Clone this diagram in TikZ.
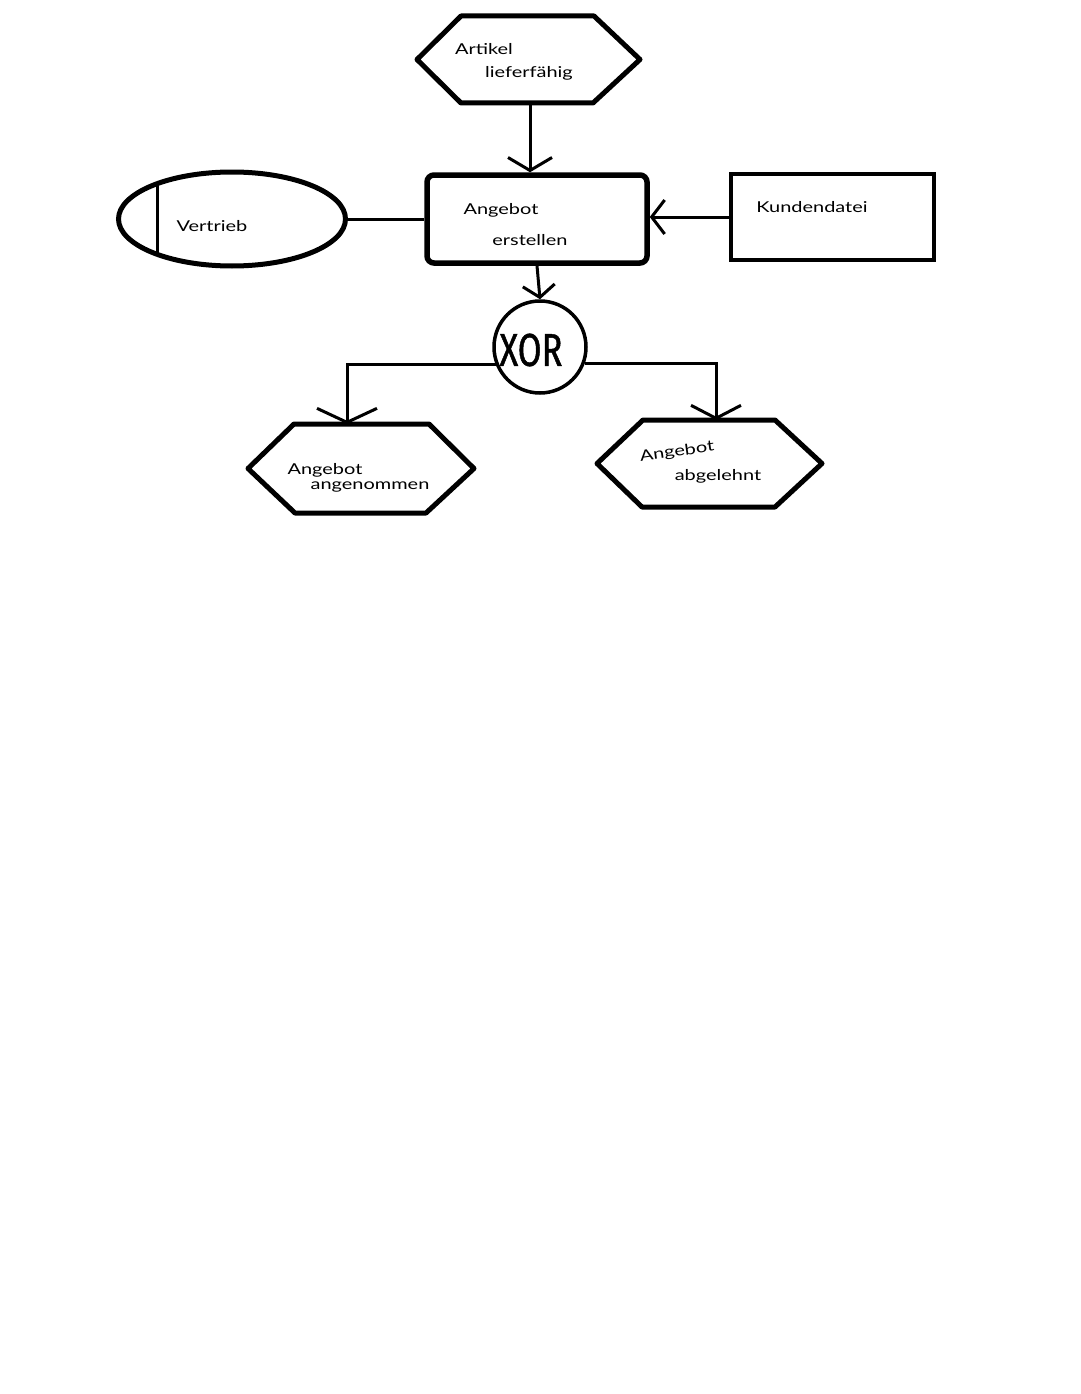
\documentclass[tikz,border=0pt]{standalone}
\usepackage{fontspec}
\usetikzlibrary{shapes.geometric,arrows.meta,calc}
\newfontfamily\hand[FakeStretch=1.33]{Lato}
\newfontfamily\xorfont[FakeStretch=0.75,FakeBold=1]{Fira Sans}
\tikzset{
  shapeline/.style={line width=5pt, line join=round, black},
  boxnode/.style={draw=none, inner sep=0pt, outer sep=0pt},
  conn/.style={line width=3pt, black},
  tip/.style={conn, -{Straight Barb[length=13pt,width=44pt]}},
  lbl/.style={inner sep=0pt, font=\hand\fontsize{15}{17}\selectfont}
}
\begin{document}
\begin{tikzpicture}[x=1pt,y=-1pt]
\useasboundingbox[fill=white] (0,0) rectangle (1080,1394);

% event: Artikel lieferfaehig
\node[boxnode, minimum width=223pt, minimum height=87pt] (ev1) at (528.5,59.5) {};
\draw[shapeline] (ev1.west) -- ([xshift=44pt]ev1.north west) -- ([xshift=-46pt]ev1.north east) -- (ev1.east) -- ([xshift=-47pt]ev1.south east) -- ([xshift=44pt]ev1.south west) -- cycle;
\node[lbl] (t1a) at (484,49) {Artikel};
\node[lbl] (t1b) at (529,73) {lieferfähig};

% function: Angebot erstellen
\node[draw, line width=5.5pt, rounded corners=7pt, minimum width=220pt, minimum height=88pt, inner sep=0pt] (fn) at (537,219) {};
\node[lbl] (t2a) at (501,210) {Angebot};
\node[lbl] (t2b) at (530,240) {erstellen};

% organisation unit: Vertrieb
\node[draw, ellipse, line width=5pt, minimum width=227pt, minimum height=94pt, inner sep=0pt] (org) at (232,219) {};
\draw[line width=3pt] ($(org.center)+(-75,-35)$) -- ($(org.center)+(-75,33)$);
\node[lbl] (t3) at (212,226) {Vertrieb};

% information object: Kundendatei
\node[draw, line width=4.5pt, minimum width=203pt, minimum height=86pt, inner sep=0pt] (kd) at (832.5,217) {};
\node[lbl] (t4) at (812,207) {Kundendatei};

% XOR connector
\node[draw, circle, line width=3.5pt, minimum size=92pt, inner sep=0pt] (xor) at (540,347) {};
\node[inner sep=0pt, font=\xorfont\fontsize{46}{50}\selectfont] (xt) at (531,350) {XOR};

% event: Angebot angenommen
\node[boxnode, minimum width=226pt, minimum height=89pt] (ev2) at (361,468.5) {};
\draw[shapeline] (ev2.west) -- ([xshift=46pt]ev2.north west) -- ([xshift=-45pt]ev2.north east) -- (ev2.east) -- ([xshift=-48pt]ev2.south east) -- ([xshift=47pt]ev2.south west) -- cycle;
\node[lbl] (t5a) at (325,470) {Angebot};
\node[lbl] (t5b) at (370,487) {angenommen};

% event: Angebot abgelehnt
\node[boxnode, minimum width=225pt, minimum height=87pt] (ev3) at (709.5,463.5) {};
\draw[shapeline] (ev3.west) -- ([xshift=46pt]ev3.north west) -- ([xshift=-47pt]ev3.north east) -- (ev3.east) -- ([xshift=-47pt]ev3.south east) -- ([xshift=45pt]ev3.south west) -- cycle;
\node[lbl, rotate=8] (t6a) at (677,452) {Angebot};
\node[lbl] (t6b) at (718,476) {abgelehnt};

% connectors
\draw[tip] ([xshift=1.5pt]ev1.south) -- ([xshift=1.5pt]ev1.south |- fn.north);
\draw[conn] (org.east) -- (fn.west);
\draw[tip, -{Straight Barb[length=13pt,width=34pt]}] (kd.west) -- (fn.east |- kd.west);
\draw[tip, -{Straight Barb[length=12pt,width=32pt]}] (fn.south) -- (xor.north);
\draw[tip, -{Straight Barb[length=14pt,width=60pt]}] (xor.202) -| ([xshift=-14pt]ev2.north);
\draw[tip, -{Straight Barb[length=13pt,width=50pt]}] (xor.340) -| ([xshift=6.5pt]ev3.north);
\end{tikzpicture}
\end{document}
